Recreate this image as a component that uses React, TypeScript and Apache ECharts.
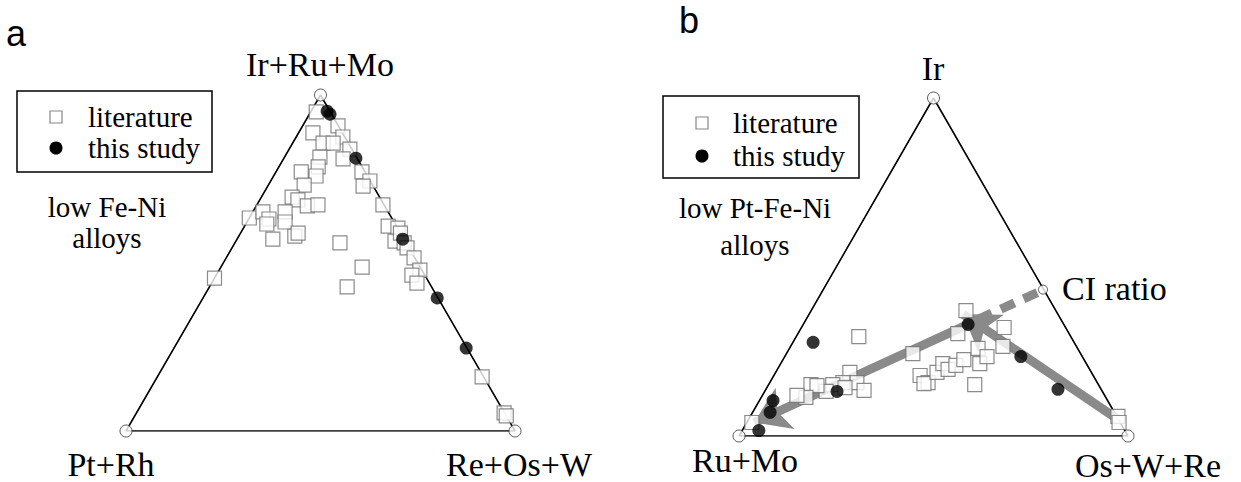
import React, { useEffect, useRef } from "react";
import * as echarts from "echarts";

// Ternary compositions, each point = [top component %, right component %]
// Panel a: top = Ir+Ru+Mo, left = Pt+Rh, right = Re+Os+W
const literatureA: [number, number][] = [
  [95, 1.4], [90.8, 9.1], [88.7, 3.7], [87.5, 12.0], [85.7, 7.8], [85.7, 10.4],
  [83.9, 15.6], [81.5, 9.1], [81.0, 15.3], [78.6, 10.1], [77.1, 22.1], [77.1, 6.5],
  [75.9, 10.9], [74.4, 25.5], [73.2, 9.2], [72.9, 24.5], [69.6, 7.9], [68.8, 9.8],
  [67.0, 13.1], [67.3, 15.7], [63.4, 0], [65.2, 2.6], [63.1, 5.2], [61.6, 5.4],
  [65.2, 8.3], [62.2, 9.8], [57.1, 9.2], [58.0, 14.4], [58.9, 14.8], [56.0, 27.0],
  [48.8, 36.3], [42.9, 35.4], [67.3, 32.4], [61.0, 36.9], [60.4, 39.7], [56.5, 40.9],
  [58.9, 41.1], [56.0, 43.5], [54.5, 45.0], [51.5, 48.3], [47.9, 51.6], [46.4, 50.3],
  [44.0, 52.8], [16.1, 83.5], [5.4, 94.5], [4.5, 95.5], [45.5, 0],
];
const studyA: [number, number][] = [
  [95.2, 4.1], [94.3, 5.3], [81.2, 18.5], [57.1, 42.6], [39.6, 60.2], [24.7, 75.1],
];

// Panel b: top = Ir, left = Ru+Mo, right = Os+W+Re
const literatureB: [number, number][] = [
  [29.4, 16.1], [18.8, 19.1], [15.8, 22.4], [13.5, 25.4], [15.8, 18.8], [15.2, 16.5],
  [13.2, 15.8], [15.2, 10.9], [14.9, 12.6], [11.4, 11.5], [12.0, 8.9], [4.0, 1.3],
  [24.4, 32.5], [37.1, 39.8], [30.3, 41.1], [32.1, 52.1], [26.5, 54.6], [17.9, 37.6],
  [15.8, 40.7], [15.5, 39.8], [18.8, 41.5], [21.4, 41.7], [19.7, 43.9], [20.9, 45.3],
  [22.6, 46.5], [25.9, 48.5], [21.4, 51.2], [23.5, 52.0], [15.2, 53.0], [5.8, 94.5],
  [4.0, 95.7], [14.3, 20.1],
];
const studyB: [number, number][] = [
  [27.7, 5.2], [13.2, 18.6], [10.5, 3.5], [7.0, 4.5], [1.6, 4.3], [33.0, 42.4],
  [23.5, 60.7], [13.8, 75.1],
];
const ciRatio: [number, number] = [43.3, 56.5];
const trendArrowsB: [number, number][][] = [
  [[33.0, 42.4], [4.0, 1.9]],
  [[4.9, 95.0], [36.0, 39.6]],
];
const ciTrendB: [number, number][] = [[34.5, 44.2], [42.5, 55.6]];

const vertices: [number, number][] = [[100, 0], [0, 0], [0, 100]];
const labelsA = ["Ir+Ru+Mo", "Pt+Rh", "Re+Os+W"];
const labelsB = ["Ir", "Ru+Mo", "Os+W+Re"];

const toXY = (p: [number, number]) => [p[1] + p[0] / 2, p[0]];

const serif = "Liberation Serif";

function buildOption() {
  const tri = (idx: number) => ({
    type: "line",
    xAxisIndex: idx,
    yAxisIndex: idx,
    data: [...vertices, vertices[0]].map(toXY),
    symbol: "none",
    lineStyle: { color: "#000", width: 1.6 },
    silent: true,
    z: 1,
  });
  const lit = (idx: number, d: [number, number][]) => ({
    name: "literature",
    type: "scatter",
    xAxisIndex: idx,
    yAxisIndex: idx,
    data: d.map(toXY),
    symbol: "rect",
    symbolSize: 14,
    itemStyle: { color: "#fff", borderColor: "#6e6e6e", borderWidth: 1.2 },
    z: 3,
  });
  const study = (idx: number, d: [number, number][]) => ({
    name: "this study",
    type: "scatter",
    xAxisIndex: idx,
    yAxisIndex: idx,
    data: d.map(toXY),
    symbol: "circle",
    symbolSize: 13,
    itemStyle: { color: "#000" },
    z: 4,
  });
  const verts = (idx: number, d: [number, number][], size: number) => ({
    type: "scatter",
    xAxisIndex: idx,
    yAxisIndex: idx,
    data: d.map(toXY),
    symbol: "circle",
    symbolSize: size,
    itemStyle: { color: "#fff", borderColor: "#333", borderWidth: 1 },
    silent: true,
    z: 5,
  });

  const txt = (text: string, x: number, y: number, size: number, align = "center", family = serif) => ({
    type: "text",
    x,
    y,
    style: {
      text,
      fontSize: size,
      fontFamily: family,
      fill: "#000",
      textAlign: align,
      textVerticalAlign: "middle",
    },
  });

  const legend = (x: number, y: number, w: number, h: number, r1: number, r2: number, tx: number, ix: number) => [
    { type: "rect", shape: { x, y, width: w, height: h }, style: { fill: "#fff", stroke: "#000", lineWidth: 1.5 } },
    { type: "rect", shape: { x: ix - 6, y: r1 - 6, width: 12, height: 12 }, style: { fill: "#fff", stroke: "#888", lineWidth: 1.2 } },
    { type: "circle", shape: { cx: ix, cy: r2, r: 6.5 }, style: { fill: "#000" } },
    txt("literature", tx, r1, 29, "left"),
    txt("this study", tx, r2, 29, "left"),
  ];

  return {
    animation: false,
    grid: [
      { left: 126, top: 95, width: 389, height: 336 },
      { left: 739, top: 98, width: 389, height: 338 },
    ],
    xAxis: [0, 1].map((i) => ({ gridIndex: i, type: "value", min: 0, max: 100, show: false })),
    yAxis: [0, 1].map((i) => ({ gridIndex: i, type: "value", min: 0, max: 100, show: false })),
    series: [
      tri(0),
      tri(1),
      {
        type: "lines",
        coordinateSystem: "cartesian2d",
        xAxisIndex: 1,
        yAxisIndex: 1,
        data: trendArrowsB.map((seg) => ({ coords: seg.map(toXY) })),
        symbol: ["none", "arrow"],
        symbolSize: [26, 34],
        lineStyle: { color: "#8a8a8a", width: 9, opacity: 1, curveness: 0 },
        silent: true,
        z: 2,
      },
      {
        type: "lines",
        coordinateSystem: "cartesian2d",
        xAxisIndex: 1,
        yAxisIndex: 1,
        data: [{ coords: ciTrendB.map(toXY) }],
        symbol: "none",
        lineStyle: { color: "#8a8a8a", width: 9, opacity: 1, type: [15, 10], curveness: 0 },
        silent: true,
        z: 2,
      },
      lit(0, literatureA),
      study(0, studyA),
      lit(1, literatureB),
      study(1, studyB),
      verts(0, vertices, 12),
      verts(1, vertices, 12),
      verts(1, [ciRatio], 9),
    ],
    graphic: [
      txt("a", 16, 33, 36, "center", "Liberation Sans"),
      txt("b", 689, 20, 36, "center", "Liberation Sans"),
      txt(labelsA[0], 320, 64, 34),
      txt(labelsA[1], 111, 464, 34),
      txt(labelsA[2], 519, 464, 34),
      txt(labelsB[0], 933, 68, 34),
      txt(labelsB[1], 745, 460, 34),
      txt(labelsB[2], 1148, 465, 34),
      txt("CI ratio", 1062, 288, 34, "left"),
      ...legend(17, 91, 195, 81, 117, 148, 88, 56),
      ...legend(663, 96, 196, 82, 123, 156, 733, 702),
      txt("low Fe-Ni", 107, 207, 29),
      txt("alloys", 107, 238, 29),
      txt("low Pt-Fe-Ni", 755, 208, 29),
      txt("alloys", 755, 245, 29),
    ],
  };
}

export default function App() {
  const ref = useRef<HTMLDivElement>(null);
  useEffect(() => {
    document.body.style.margin = "0";
    const chart = echarts.init(ref.current!, null, { renderer: "svg" });
    chart.setOption(buildOption() as any);
    return () => chart.dispose();
  }, []);
  return <div ref={ref} style={{ width: 1241, height: 482 }} />;
}
